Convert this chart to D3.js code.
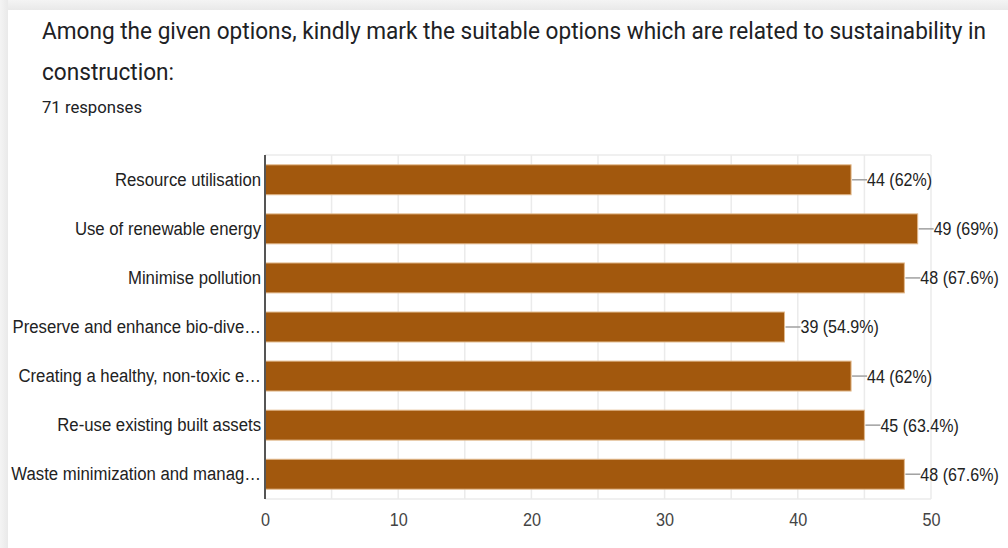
<!DOCTYPE html>
<html><head><meta charset="utf-8">
<script src="https://cdn.jsdelivr.net/npm/d3@7"></script>
<style>
html,body{margin:0;padding:0;background:#fff;}
svg{display:block;}
</style></head>
<body>
<svg id="chart" width="1008" height="548"></svg>
<script>
const titleLines = ["Among the given options, kindly mark the suitable options which are related to sustainability in", "construction:"];
const subtitle = "71 responses";
const categories = ["Resource utilisation","Use of renewable energy","Minimise pollution","Preserve and enhance bio-dive\u2026","Creating a healthy, non-toxic e\u2026","Re-use existing built assets","Waste minimization and manag\u2026"];
const counts = [44,49,48,39,44,45,48];
const percents = ["62%","69%","67.6%","54.9%","62%","63.4%","67.6%"];
const xTicks = [0,10,20,30,40,50];
const gridValues = [5,10,15,20,25,30,35,40,45,50];

(function(){
const svg = d3.select("#chart");
const defs = svg.append("defs");
const gTop = defs.append("linearGradient").attr("id","gt").attr("x1",0).attr("y1",0).attr("x2",0).attr("y2",1);
gTop.append("stop").attr("offset","0").attr("stop-color","#f4f4f4");
gTop.append("stop").attr("offset","1").attr("stop-color","#e9e9e9");
const gLeft = defs.append("linearGradient").attr("id","gl").attr("x1",0).attr("y1",0).attr("x2",1).attr("y2",0);
gLeft.append("stop").attr("offset","0").attr("stop-color","#f4f4f4");
gLeft.append("stop").attr("offset","1").attr("stop-color","#e9e9e9");
svg.append("rect").attr("x",0).attr("y",0).attr("width",1008).attr("height",10).attr("fill","url(#gt)");
svg.append("rect").attr("x",0).attr("y",0).attr("width",8).attr("height",548).attr("fill","url(#gl)");

const squeeze = (sel, f) => sel.each(function(){
  const w = this.getComputedTextLength();
  d3.select(this).attr("textLength", w*f).attr("lengthAdjust","spacingAndGlyphs");
});

svg.append("text").attr("x",42).attr("y",39).attr("font-family","Roboto, 'Open Sans', sans-serif")
  .attr("font-size",23).attr("fill","#202124")
  .text(titleLines[0]).call(squeeze, 1).each(function(){
    const w = this.getComputedTextLength();
    d3.select(this).attr("textLength", Math.min(w, 944));
  });
svg.append("text").attr("x",42).attr("y",80).attr("font-family","Roboto, 'Open Sans', sans-serif")
  .attr("font-size",23).attr("fill","#202124").attr("textLength",132).attr("lengthAdjust","spacingAndGlyphs")
  .text(titleLines[1]);
svg.append("text").attr("x",42).attr("y",113).attr("font-family","Roboto, sans-serif")
  .attr("font-size",16).attr("fill","#202124").attr("textLength",100).attr("lengthAdjust","spacingAndGlyphs")
  .text(subtitle);

const pl = 265, pr = 931, pt = 155, pb = 499;
const x = d3.scaleLinear().domain([0,50]).range([pl,pr]);
const y = d3.scaleBand().domain(categories).range([pt,pb]).paddingInner(0.39).paddingOuter(0.2);

svg.append("g").selectAll("line").data(gridValues).join("line")
  .attr("x1",d=>x(d)).attr("x2",d=>x(d)).attr("y1",pt).attr("y2",pb)
  .attr("stroke","#ebebeb").attr("stroke-width",1.5);
svg.append("line").attr("x1",pl).attr("x2",pr).attr("y1",pt).attr("y2",pt).attr("stroke","#ebebeb").attr("stroke-width",1.5);
svg.append("line").attr("x1",pl).attr("x2",pr).attr("y1",pb).attr("y2",pb).attr("stroke","#ebebeb").attr("stroke-width",1.5);

svg.append("g").selectAll("rect").data(counts).join("rect")
  .attr("x",x(0)).attr("y",(d,i)=>y(categories[i]))
  .attr("width",d=>x(d)-x(0)).attr("height",y.bandwidth())
  .attr("fill","#a2580d").attr("stroke","#e2b98c").attr("stroke-width",1);

const lg = svg.append("g");
lg.selectAll("line").data(counts).join("line")
  .attr("x1",d=>x(d)+1).attr("x2",d=>x(d)+16)
  .attr("y1",(d,i)=>y(categories[i])+y.bandwidth()/2).attr("y2",(d,i)=>y(categories[i])+y.bandwidth()/2)
  .attr("stroke","#a0a0a0").attr("stroke-width",1.5);
lg.selectAll("text").data(counts).join("text")
  .attr("x",d=>x(d)+16).attr("y",(d,i)=>y(categories[i])+y.bandwidth()/2).attr("dy","0.36em")
  .attr("font-family","'Liberation Sans', Arial, sans-serif").attr("font-size",18).attr("fill","#222")
  .text((d,i)=>`${d} (${percents[i]})`).call(squeeze, 0.89);

const yAxis = d3.axisLeft(y).tickSize(0).tickPadding(4);
const ya = svg.append("g").attr("transform",`translate(${pl},0)`).call(yAxis);
ya.select(".domain").attr("stroke","#555").attr("stroke-width",2).attr("d",`M0,${pt}V${pb}`);
ya.selectAll("text").attr("font-family","'Liberation Sans', Arial, sans-serif").attr("font-size",18).attr("fill","#222").call(squeeze, 0.93);

const xAxis = d3.axisBottom(x).tickValues(xTicks).tickSize(0).tickPadding(14).tickFormat(d3.format("d"));
const xa = svg.append("g").attr("transform",`translate(0,${pb})`).call(xAxis);
xa.select(".domain").remove();
xa.selectAll("text").attr("font-family","'Liberation Sans', Arial, sans-serif").attr("font-size",18).attr("fill","#444").call(squeeze, 0.9);
})();
</script>
</body></html>
